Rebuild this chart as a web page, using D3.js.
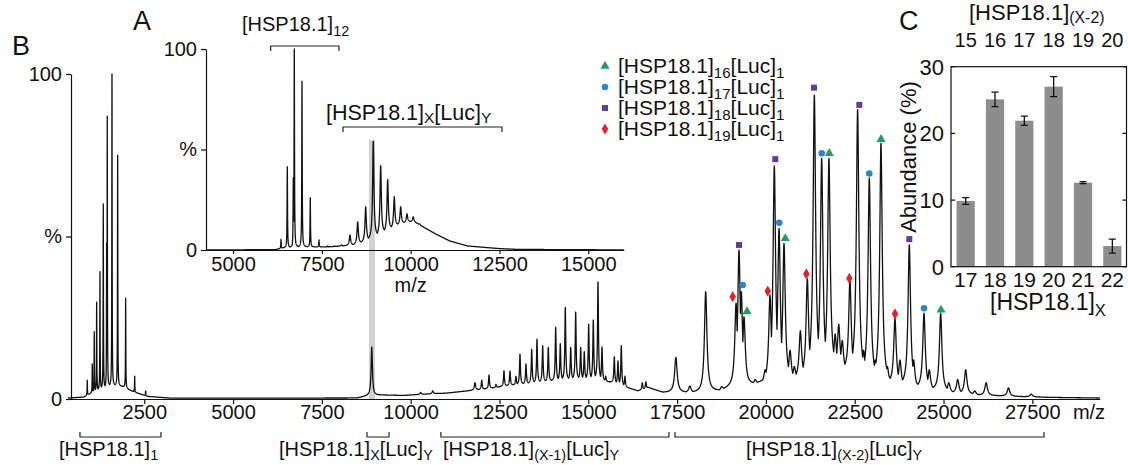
<!DOCTYPE html>
<html>
<head>
<meta charset="utf-8">
<script src="https://cdn.jsdelivr.net/npm/d3@7"></script>
<style>
  body { margin: 0; background: #fff; }
  svg { display: block; }
  text { font-family: "Liberation Sans", Arial, sans-serif; fill: #111; }
</style>
</head>
<body>
<div id="chart"></div>
<script>
// ---- B: full spectrum, peak tops (m/z, % intensity) ----
const mainPeakMz = [895, 1036, 1092, 1160, 1253, 1346, 1441, 1458, 1591, 1751, 1976, 2230, 2539,
  8905,
  10280, 10620, 11436, 11810, 12000, 12205, 12400, 12627, 12796, 12964, 13077, 13246, 13407, 13556,
  13716, 13874, 14082, 14212, 14353, 14505, 14645, 14786, 14887, 15011, 15141, 15273, 15386, 15490,
  15732, 15836, 15929, 16033, 16520, 16620, 17466, 17860, 18305, 18756, 19160, 19243, 19307, 19384,
  19700, 19980, 20115, 20237, 20370, 20510, 20680, 20800, 20970, 21166, 21364, 21570, 21775, 21950,
  22050, 22150, 22366, 22582, 22750, 22911, 23080, 23240, 23420, 23634, 23775, 24037, 24160, 24451,
  24600, 24920, 25150, 25400, 25625, 25880, 26200, 26830, 27470];
const mainPeakInt = [5.8, 10.8, 20.7, 29.8, 39.2, 60, 48, 87, 100, 75, 31, 7, 2.5,
  16,
  2, 2.5, 1.5, 5, 5.8, 7.4, 4.5, 8.7, 8.6, 7, 13.8, 10.8, 15.3, 18.4,
  16.4, 15.9, 22, 17, 28.2, 15.9, 26.7, 15.9, 14.6, 23, 24.3, 36, 16, 7,
  13, 11.7, 16.4, 7, 5, 5.3, 12.8, 4, 33, 3.8, 29.5, 45.8, 33, 25.3,
  6, 9, 32, 71.7, 52.5, 47.9, 15, 10, 21, 37, 93.5, 74, 74, 20,
  23, 18, 36.6, 89, 15, 68, 12, 78.7, 10, 24.8, 12, 47.4, 12, 26.4,
  9, 26.4, 5, 6, 9, 2.5, 5, 3.4, 1.5];
const mainBaseMz = [350, 800, 1000, 1300, 1600, 1900, 2200, 2600, 3200, 8500, 8800, 9200, 9800, 10400,
  11000, 11600, 12200, 12800, 13400, 14000, 14600, 15200, 15700, 16100, 16400, 16700, 17100, 17700,
  18200, 18700, 19100, 19600, 20100, 20600, 21100, 21600, 22100, 22500, 23000, 23500, 24000, 24500,
  25000, 25500, 26000, 27000, 28000, 29400];
const mainBaseInt = [0.3, 0.6, 1.8, 3.2, 4.2, 3.8, 2.2, 0.8, 0.3, 0.3, 1.0, 1.2, 1.1, 1.5,
  1.8, 2.5, 3.2, 4.2, 4.8, 5.5, 6, 6, 5, 3.5, 2.5, 3.5, 2, 2,
  1.8, 2.5, 4, 4.5, 5, 5.5, 6.5, 8, 9, 7, 5.5, 4.5, 3.5, 3,
  2.2, 1.6, 1.2, 0.8, 0.5, 0.3];
const mainTicks = [2500, 5000, 7500, 10000, 12500, 15000, 17500, 20000, 22500, 25000, 27500];

// ---- A: inset spectrum ----
const insetPeakMz = [6349, 6526, 6695, 6723, 6940, 7173, 7418, 7650, 7850, 8050, 8291, 8508, 8733,
  8947, 9155, 9352, 9538, 9718, 9896, 10070, 10250];
const insetPeakInt = [5.3, 41.5, 36, 100, 84, 26, 5, 2, 2, 2.5, 7.5, 14, 21.5,
  54, 42, 35, 26.5, 21.5, 18, 16.5, 13];
const insetBaseMz = [4240, 6200, 6400, 7000, 7600, 8100, 8400, 8700, 9000, 9300, 9600, 9900, 10100,
  10400, 10700, 11100, 11600, 12500, 13000, 16000];
const insetBaseInt = [0, 0.2, 1, 1.5, 1.5, 2, 2.5, 4, 6, 9, 12, 14, 14,
  11, 8, 4.5, 2, 0.7, 0.3, 0.05];
const insetTicks = [5000, 7500, 10000, 12500, 15000];
const highlightMz = 8910;

// ---- species markers (m/z, % level of the marker) ----
const luc16Mz = [19468, 20546, 21785, 23241, 24930];
const luc16Int = [26.9, 49.4, 75.6, 79.9, 27.4];
const luc17Mz = [19347, 20377, 21571, 22911, 24451];
const luc17Int = [35.1, 54.2, 75.6, 69.4, 27.9];
const luc18Mz = [19243, 20265, 21354, 22630, 24037];
const luc18Int = [47.4, 73.8, 95.8, 90.5, 49.2];
const luc19Mz = [19065, 20051, 21138, 22348, 23634];
const luc19Int = [31.5, 33.2, 38.5, 37.1, 26.2];

// ---- brackets (m/z ranges) ----
const mainBrackets = [[690, 2970], [8770, 9390], [10850, 17270], [17440, 27830]];
const insetBrackets = [[6058, 7981], [8094, 12570]];

// ---- C: abundance ----
const abundX = ["17", "18", "19", "20", "21", "22"];
const abundX2 = ["15", "16", "17", "18", "19", "20"];
const abundVal = [9.85, 25.1, 21.9, 27.0, 12.6, 3.1];
const abundErr = [0.5, 1.1, 0.7, 1.5, 0.15, 1.05];
const abundTicks = [0, 10, 20, 30];

const W = 1128, H = 465;
const svg = d3.select("#chart").append("svg").attr("width", W).attr("height", H);

function peakWidth(m) {
  if (m < 3000) return 5;
  if (m < 8000) return 7;
  if (m < 12000) return 22;
  if (m < 16800) return 15;
  return 42;
}

function profile(pMz, pInt, bMz, bInt, lo, hi, step) {
  const base = d3.scaleLinear().domain(bMz).range(bInt).clamp(true);
  const xs = d3.range(lo, hi, step).concat(pMz).concat([hi]).sort((a, b) => a - b);
  return xs.map(m => {
    let top = 0;
    pMz.forEach((p, i) => {
      const d = (m - p) / peakWidth(p);
      if (Math.abs(d) > 60) return;
      const v = (pInt[i] - base(p)) / (1 + d * d);
      if (v > top) top = v;
    });
    return [m, base(m) + top];
  });
}

function rich(sel, x, y, parts, size, anchor, drop) {
  const dd = size * (drop || 0.25);
  const t = sel.append("text").attr("x", x).attr("y", y)
    .attr("font-size", size).attr("text-anchor", anchor || "start");
  let low = false;
  parts.forEach(([s, sub]) => {
    const sp = t.append("tspan").text(s);
    if (sub) {
      sp.attr("font-size", size * 0.72);
      if (!low) { sp.attr("dy", dd); low = true; }
    } else if (low) {
      sp.attr("dy", -dd); low = false;
    }
  });
  return t;
}

function styleAxis(g, size) {
  g.attr("font-family", null).attr("font-size", null);
  g.selectAll("text").attr("font-size", size).attr("fill", "#111");
  g.selectAll("line,path").attr("stroke", "#111").attr("stroke-width", 1.2);
}

// ---- main scales ----
const x = d3.scaleLinear().domain([350, 29400]).range([67.9, 1099.8]);
const y = d3.scaleLinear().domain([0, 100]).range([399, 74]);

// highlight bar
svg.append("rect")
  .attr("x", x(highlightMz) - 3).attr("width", 6)
  .attr("y", 140).attr("height", 399 - 140)
  .attr("fill", "#d2d2d2");

const line = d3.line().x(d => x(d[0])).y(d => y(d[1]));
svg.append("path")
  .datum(profile(mainPeakMz, mainPeakInt, mainBaseMz, mainBaseInt, 350, 29400, 2))
  .attr("fill", "none").attr("stroke", "#111").attr("stroke-width", 1.3)
  .attr("stroke-linejoin", "round")
  .attr("d", line);

const gx = svg.append("g").attr("transform", "translate(0,399)")
  .call(d3.axisBottom(x).tickValues(mainTicks).tickFormat(d3.format("d"))
    .tickSize(5).tickPadding(1).tickSizeOuter(0));
styleAxis(gx, 20);
svg.append("text").attr("x", 1089).attr("y", 419).attr("font-size", 20)
  .attr("text-anchor", "middle").text("m/z");

const gy = svg.append("g").attr("transform", "translate(71,0)")
  .call(d3.axisLeft(y).tickValues([0, 50, 100]).tickFormat(d => d === 50 ? "%" : d)
    .tickSize(5).tickPadding(4).tickSizeOuter(0));
styleAxis(gy, 20);

// bottom brackets
const bottomLabels = [
  [59, [["[HSP18.1]", 0], ["1", 1]]],
  [279, [["[HSP18.1]", 0], ["X", 1], ["[Luc]", 0], ["Y", 1]]],
  [443, [["[HSP18.1]", 0], ["(X-1)", 1], ["[Luc]", 0], ["Y", 1]]],
  [746, [["[HSP18.1]", 0], ["(X-2)", 1], ["[Luc]", 0], ["Y", 1]]]
];
mainBrackets.forEach((b, i) => {
  const x0 = x(b[0]), x1 = x(b[1]);
  svg.append("path")
    .attr("d", `M${x0},432V437H${x1}V432`)
    .attr("fill", "none").attr("stroke", "#222").attr("stroke-width", 1.2);
  rich(svg, bottomLabels[i][0], 456, bottomLabels[i][1], 20, "start", 0.2);
});

// markers
const species = [
  { mz: luc16Mz, v: luc16Int, sym: d3.symbolTriangle, color: "#22a05a", size: 36, sub: "16" },
  { mz: luc17Mz, v: luc17Int, sym: d3.symbolCircle, color: "#2a86c8", size: 34, sub: "17" },
  { mz: luc18Mz, v: luc18Int, sym: d3.symbolSquare, color: "#5f3d98", size: 36, sub: "18" },
  { mz: luc19Mz, v: luc19Int, sym: d3.symbolDiamond, color: "#e5202a", size: 36, sub: "19" }
];
species.forEach(s => {
  svg.append("g").selectAll("path").data(s.mz).join("path")
    .attr("transform", (d, i) => `translate(${x(d)},${y(s.v[i])})`)
    .attr("d", d3.symbol().type(s.sym).size(s.size))
    .attr("fill", s.color);
});

// legend
species.forEach((s, i) => {
  const ly = 73 + i * 21;
  svg.append("path")
    .attr("transform", `translate(605,${ly - 7})`)
    .attr("d", d3.symbol().type(s.sym).size(s.size))
    .attr("fill", s.color);
  rich(svg, 618, ly, [["[HSP18.1]", 0], [s.sub, 1], ["[Luc]", 0], ["1", 1]], 21);
});

// ---- A: inset ----
const xi = d3.scaleLinear().domain([4240, 16000]).range([206.1, 623.8]);
const yi = d3.scaleLinear().domain([0, 100]).range([250, 49]);
const linei = d3.line().x(d => xi(d[0])).y(d => yi(d[1]));
svg.append("path")
  .datum(profile(insetPeakMz, insetPeakInt, insetBaseMz, insetBaseInt, 4240, 16000, 2))
  .attr("fill", "none").attr("stroke", "#111").attr("stroke-width", 1.3)
  .attr("stroke-linejoin", "round")
  .attr("d", linei);

const gxi = svg.append("g").attr("transform", "translate(0,250)")
  .call(d3.axisBottom(xi).tickValues(insetTicks).tickFormat(d3.format("d"))
    .tickSize(4).tickPadding(3).tickSizeOuter(0));
styleAxis(gxi, 20);
svg.append("text").attr("x", xi(10000)).attr("y", 292).attr("font-size", 20)
  .attr("text-anchor", "middle").text("m/z");
const gyi = svg.append("g").attr("transform", "translate(206,0)")
  .call(d3.axisLeft(yi).tickValues([0, 50, 100]).tickFormat(d => d === 50 ? "%" : d)
    .tickSize(5).tickPadding(4).tickSizeOuter(0));
styleAxis(gyi, 20);

const insetBracketY = [46, 127];
insetBrackets.forEach((b, i) => {
  const x0 = xi(b[0]), x1 = xi(b[1]), by = insetBracketY[i];
  svg.append("path")
    .attr("d", `M${x0},${by + 5}V${by}H${x1}V${by + 5}`)
    .attr("fill", "none").attr("stroke", "#222").attr("stroke-width", 1.2);
});
rich(svg, 242, 31, [["[HSP18.1]", 0], ["12", 1]], 20);
rich(svg, 326, 120, [["[HSP18.1]", 0], ["X", 1], ["[Luc]", 0], ["Y", 1]], 21.5, "start", 0.15);

// panel letters
svg.append("text").attr("x", 12).attr("y", 55).attr("font-size", 27).text("B");
svg.append("text").attr("x", 133).attr("y", 30).attr("font-size", 27).text("A");
svg.append("text").attr("x", 899).attr("y", 30).attr("font-size", 27).text("C");

// ---- C: abundance bars ----
const xb = d3.scaleBand().domain(abundX).range([951, 1127]).paddingInner(0.38).paddingOuter(0.19);
const yb = d3.scaleLinear().domain([0, 30]).range([266.7, 66.7]);
const gc = svg.append("g");
gc.selectAll("rect.bar").data(abundVal).join("rect").attr("class", "bar")
  .attr("x", (d, i) => xb(abundX[i])).attr("width", xb.bandwidth())
  .attr("y", d => yb(d)).attr("height", d => yb(0) - yb(d))
  .attr("fill", "#8d8d8d");
abundVal.forEach((v, i) => {
  const cx = xb(abundX[i]) + xb.bandwidth() / 2;
  const e = abundErr[i];
  gc.append("path")
    .attr("d", `M${cx},${yb(v - e)}V${yb(v + e)}M${cx - 3.5},${yb(v - e)}H${cx + 3.5}M${cx - 3.5},${yb(v + e)}H${cx + 3.5}`)
    .attr("stroke", "#111").attr("stroke-width", 1.3).attr("fill", "none");
});
gc.append("rect").attr("x", 951).attr("y", 66.7).attr("width", 175.5).attr("height", 200)
  .attr("fill", "none").attr("stroke", "#111").attr("stroke-width", 1.2);
abundTicks.forEach(t => {
  gc.append("path").attr("d", `M951,${yb(t)}h4M1126.5,${yb(t)}h-4`)
    .attr("stroke", "#111").attr("stroke-width", 1.2);
  gc.append("text").attr("x", 944).attr("y", yb(t)).attr("dy", "0.36em")
    .attr("text-anchor", "end").attr("font-size", 22).text(t);
});
abundX.forEach((c, i) => {
  const cx = xb(c) + xb.bandwidth() / 2;
  gc.append("text").attr("x", cx).attr("y", 287).attr("text-anchor", "middle")
    .attr("font-size", 21).text(c);
  gc.append("text").attr("x", cx).attr("y", 47).attr("text-anchor", "middle")
    .attr("font-size", 20).text(abundX2[i]);
});
gc.append("text").attr("transform", "translate(916,157) rotate(-90)")
  .attr("text-anchor", "middle").attr("font-size", 22).text("Abundance (%)");
rich(gc, 969, 20, [["[HSP18.1]", 0], ["(X-2)", 1]], 22, "start", 0.12);
rich(gc, 990, 310, [["[HSP18.1]", 0], ["X", 1]], 23);
</script>
</body>
</html>
